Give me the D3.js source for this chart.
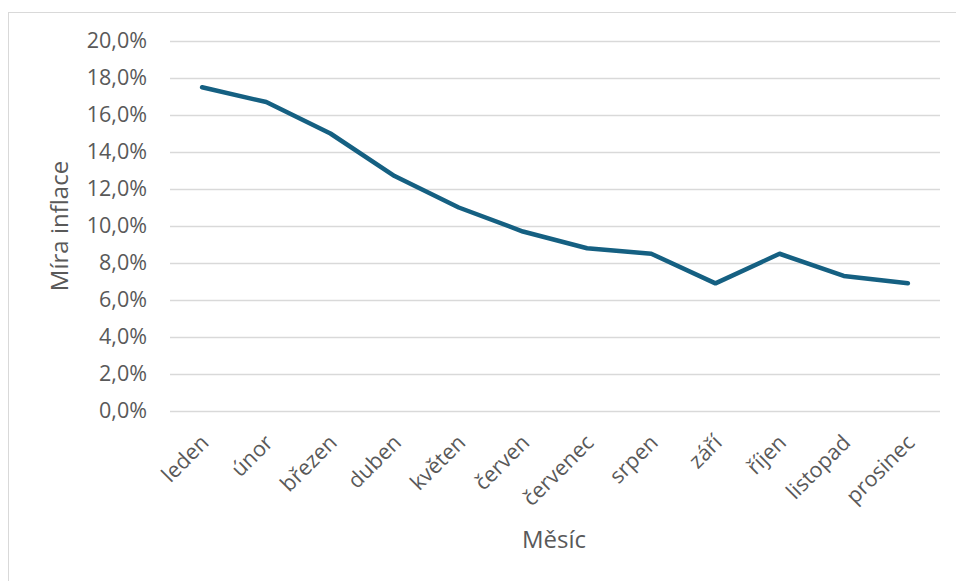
<!DOCTYPE html>
<html>
<head>
<meta charset="utf-8">
<script src="https://cdn.jsdelivr.net/npm/d3@7"></script>
<style>
  html, body { margin: 0; padding: 0; background: #ffffff; }
  svg { display: block; }
  text { font-family: "Open Sans", "Noto Sans", sans-serif; fill: #595959; }
</style>
</head>
<body>
<svg id="chart" width="956" height="581"></svg>
<script>
const months = ["leden", "únor", "březen", "duben", "květen", "červen", "červenec", "srpen", "září", "říjen", "listopad", "prosinec"];
const inflation = [17.5, 16.7, 15.0, 12.7, 11.0, 9.7, 8.8, 8.5, 6.9, 8.5, 7.3, 6.9];
const yTicks = [0, 2, 4, 6, 8, 10, 12, 14, 16, 18, 20];
const yTitle = "Míra inflace";
const xTitle = "Měsíc";

(function () {
const svg = d3.select("#chart");
const mLeft = 170, mRight = 940, mTop = 41, mBottom = 411;
const tickFont = 21.5, titleFont = 24;

svg.append("rect")
  .attr("x", 8.5).attr("y", 12.5)
  .attr("width", 960).attr("height", 600)
  .attr("fill", "none").attr("stroke", "#d9d9d9").attr("stroke-width", 1);

const x = d3.scaleBand().domain(months).range([mLeft, mRight]).paddingInner(0).paddingOuter(0);
const y = d3.scaleLinear().domain([0, 20]).range([mBottom, mTop]);

svg.append("g").selectAll("line").data(yTicks).join("line")
  .attr("x1", mLeft).attr("x2", mRight)
  .attr("y1", d => Math.round(y(d)) + 0.5).attr("y2", d => Math.round(y(d)) + 0.5)
  .attr("stroke", "#d9d9d9").attr("stroke-width", 1.3);

const yAxis = d3.axisLeft(y).tickValues(yTicks).tickSize(0).tickPadding(0)
  .tickFormat(d => d3.format(".1f")(d).replace(".", ",") + "%");
const gy = svg.append("g").attr("transform", `translate(147,0)`).call(yAxis);
gy.select(".domain").remove();
gy.selectAll("text").attr("font-size", tickFont).attr("fill", "#595959")
  .style("font-family", '"Open Sans", "Noto Sans", sans-serif');

const xAxis = d3.axisBottom(x).tickSize(0).tickPadding(0);
const gx = svg.append("g").attr("transform", `translate(0,${mBottom})`).call(xAxis);
gx.select(".domain").remove();
gx.selectAll(".tick text")
  .attr("font-size", tickFont).attr("fill", "#595959")
  .style("font-family", '"Open Sans", "Noto Sans", sans-serif')
  .attr("text-anchor", "end")
  .attr("dy", 0).attr("y", 0).attr("x", 0)
  .attr("transform", "translate(8,33) rotate(-45)");

const line = d3.line()
  .x((d, i) => x(months[i]) + x.bandwidth() / 2)
  .y(d => y(d));
svg.append("path").datum(inflation)
  .attr("d", line)
  .attr("fill", "none")
  .attr("stroke", "#156082")
  .attr("stroke-width", 4.5)
  .attr("stroke-linejoin", "round")
  .attr("stroke-linecap", "round");

svg.append("text")
  .attr("transform", `translate(68,${(mTop + mBottom) / 2}) rotate(-90)`)
  .attr("text-anchor", "middle")
  .attr("font-size", titleFont)
  .text(yTitle);

svg.append("text")
  .attr("x", 554).attr("y", 548)
  .attr("text-anchor", "middle")
  .attr("font-size", titleFont)
  .text(xTitle);
})();
</script>
</body>
</html>
